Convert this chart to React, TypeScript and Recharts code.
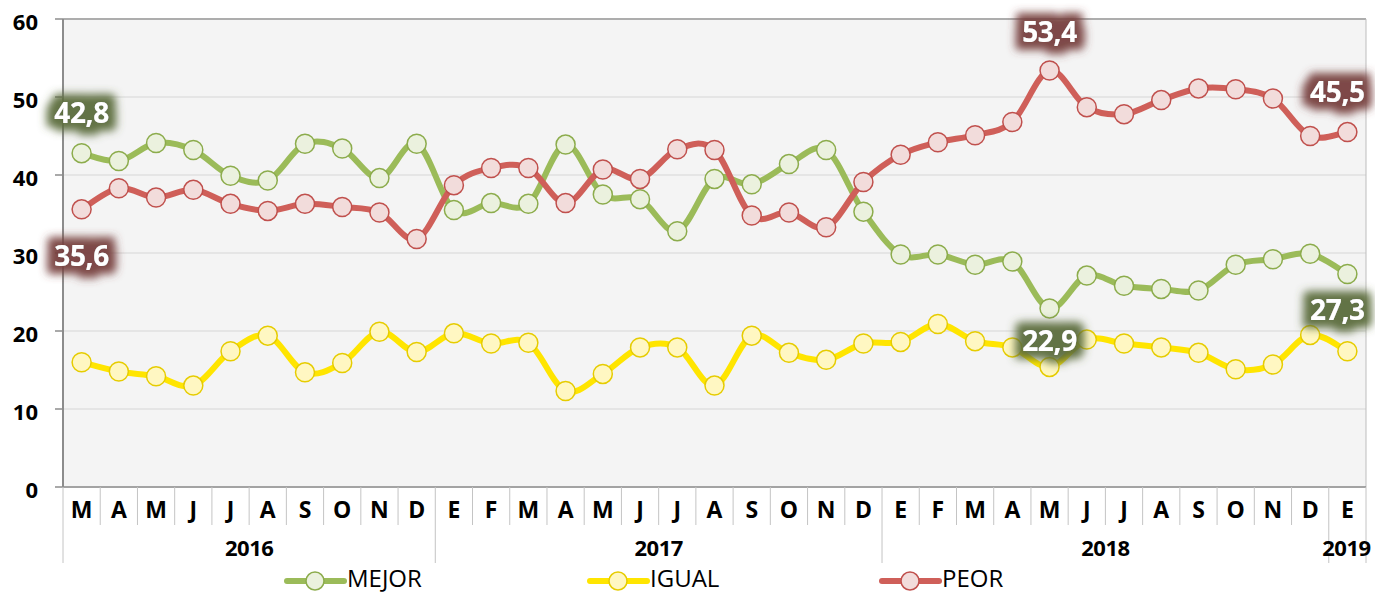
import React from 'react';
import { LineChart, Line, XAxis, YAxis, CartesianGrid, ReferenceLine, LabelList } from 'recharts';

const months = ['M', 'A', 'M', 'J', 'J', 'A', 'S', 'O', 'N', 'D', 'E', 'F', 'M', 'A', 'M', 'J', 'J', 'A', 'S', 'O', 'N', 'D', 'E', 'F', 'M', 'A', 'M', 'J', 'J', 'A', 'S', 'O', 'N', 'D', 'E'];
const yearLabels = ['2016', '2017', '2018', '2019'];
const yearSpans = [10, 12, 12, 1];

const mejor = [42.8, 41.8, 44.1, 43.2, 39.9, 39.3, 44.0, 43.4, 39.6, 44.0, 35.5, 36.4, 36.3, 43.9, 37.5, 36.9, 32.8, 39.5, 38.8, 41.4, 43.2, 35.3, 29.8, 29.8, 28.5, 28.9, 22.9, 27.1, 25.8, 25.4, 25.2, 28.5, 29.2, 29.9, 27.3];
const igual = [16.0, 14.8, 14.2, 13.0, 17.4, 19.4, 14.7, 15.9, 19.9, 17.3, 19.7, 18.4, 18.5, 12.3, 14.5, 17.9, 17.9, 13.0, 19.4, 17.2, 16.3, 18.4, 18.6, 20.9, 18.7, 17.9, 15.4, 18.9, 18.4, 17.9, 17.2, 15.1, 15.7, 19.5, 17.4];
const peor = [35.6, 38.3, 37.1, 38.1, 36.3, 35.4, 36.3, 35.9, 35.2, 31.8, 38.7, 40.9, 40.9, 36.4, 40.7, 39.5, 43.3, 43.2, 34.8, 35.2, 33.3, 39.1, 42.6, 44.2, 45.1, 46.8, 53.4, 48.7, 47.8, 49.6, 51.1, 51.0, 49.8, 45.0, 45.5];
const yTicks = [0, 10, 20, 30, 40, 50, 60];

// which points carry a value label, and where it sits
const mejorLabels: Record<number, { dx: number; dy: number }> = { 0: { dx: 0, dy: -40 }, 26: { dx: 0, dy: 33 }, 34: { dx: -10, dy: 36 } };
const peorLabels: Record<number, { dx: number; dy: number }> = { 0: { dx: 0, dy: 47 }, 26: { dx: 0, dy: -39 }, 34: { dx: -10, dy: -40 } };

const W = 1375;
const H = 594;
const M = { top: 19, right: 0, left: 0, bottom: 31 };
const Y_W = 63;
const R_W = 9;
const STEP = (W - Y_W - R_W) / months.length;
const FONT = '"Open Sans", sans-serif';

const yearOfIndex: { start: number; label: string; span: number }[] = [];
{
  let s = 0;
  yearSpans.forEach((n, i) => {
    yearOfIndex.push({ start: s, label: yearLabels[i], span: n });
    s += n;
  });
}

const data = months.map((m, i) => ({ m, i, mejor: mejor[i], igual: igual[i], peor: peor[i] }));

// excel-like smoothed line (cardinal, tension 0)
const smooth = (context: any) => {
  let pts: number[][] = [];
  return {
    areaStart() {},
    areaEnd() {},
    lineStart() { pts = []; },
    point(x: number, y: number) { pts.push([+x, +y]); },
    lineEnd() {
      if (!pts.length) return;
      context.moveTo(pts[0][0], pts[0][1]);
      for (let i = 0; i < pts.length - 1; i++) {
        const p0 = pts[i - 1] || pts[i];
        const p1 = pts[i];
        const p2 = pts[i + 1];
        const p3 = pts[i + 2] || p2;
        context.bezierCurveTo(
          p1[0] + (p2[0] - p0[0]) / 6, p1[1] + (p2[1] - p0[1]) / 6,
          p2[0] - (p3[0] - p1[0]) / 6, p2[1] - (p3[1] - p1[1]) / 6,
          p2[0], p2[1]
        );
      }
    },
  };
};

const YTick = ({ x, y, payload }: any) => (
  <text x={x} y={y} dy={11} textAnchor="end" fontFamily={FONT} fontWeight={700} fontSize={22} fill="#000">
    {payload.value}
  </text>
);

const MonthTick = ({ x, y, payload, index }: any) => (
  <g>
    <line x1={x - STEP / 2} y1={y} x2={x - STEP / 2} y2={y + 38} stroke="#c4c4c4" />
    {index === months.length - 1 && <line x1={x + STEP / 2} y1={y} x2={x + STEP / 2} y2={y + 38} stroke="#c4c4c4" />}
    <text x={x} y={y} dy={31} textAnchor="middle" fontFamily={FONT} fontWeight={700} fontSize={23} fill="#000">
      {payload.value}
    </text>
  </g>
);

const YearTick = ({ x, y, index }: any) => {
  const grp = yearOfIndex.find((g) => g.start === index);
  if (!grp) return null;
  const cx = grp.span === 1 ? x - 1 : x + ((grp.span - 1) / 2) * STEP;
  const last = grp.start + grp.span === months.length;
  return (
    <g>
      <line x1={x - STEP / 2} y1={y} x2={x - STEP / 2} y2={y + 38} stroke="#c4c4c4" />
      {last && <line x1={x + (grp.span - 0.5) * STEP} y1={y} x2={x + (grp.span - 0.5) * STEP} y2={y + 38} stroke="#c4c4c4" />}
      <text x={cx} y={y} dy={31} textAnchor="middle" fontFamily={FONT} fontWeight={700} fontSize={22} letterSpacing={-0.5} fill="#000">
        {grp.label}
      </text>
    </g>
  );
};

const makeLabel = (pos: Record<number, { dx: number; dy: number }>, filterId: string) => (props: any) => {
  const { x, y, value, index } = props;
  const p = pos[index];
  if (!p) return null;
  return (
    <text
      x={x + p.dx}
      y={y + p.dy}
      dy="0.36em"
      textAnchor="middle"
      fontFamily={FONT}
      fontWeight={700}
      fontSize={28}
      letterSpacing={-0.3}
      fill="#fff"
      filter={`url(#${filterId})`}
    >
      {String(value).replace('.', ',')}
    </text>
  );
};

const Glow = ({ id, color }: { id: string; color: string }) => (
  <filter id={id} x="-50%" y="-80%" width="200%" height="260%">
    <feMorphology in="SourceAlpha" operator="dilate" radius="8" result="d" />
    <feGaussianBlur in="d" stdDeviation="4.5" result="b" />
    <feFlood floodColor={color} floodOpacity="0.95" />
    <feComposite in2="b" operator="in" result="g" />
    <feMerge>
      <feMergeNode in="g" />
      <feMergeNode in="SourceGraphic" />
    </feMerge>
  </filter>
);

const series = [
  { key: 'mejor', name: 'MEJOR', stroke: '#9bbb59', dotStroke: '#8cac4c', fill: '#ebf1de' },
  { key: 'igual', name: 'IGUAL', stroke: '#ffe500', dotStroke: '#e6cc00', fill: '#fff7c2' },
  { key: 'peor', name: 'PEOR', stroke: '#cf5f59', dotStroke: '#c0504d', fill: '#f2dcdb' },
];
const legendX = [287, 590, 882];

export default function App() {
  return (
    <div style={{ position: 'absolute', left: 0, top: 0, width: W, height: H, background: '#fff', fontFamily: FONT }}>
      <LineChart width={W} height={H} data={data} margin={M}>
        <defs>
          <Glow id="glowG" color="#5b6c3c" />
          <Glow id="glowR" color="#77403e" />
        </defs>
        <CartesianGrid vertical={false} fill="#f4f4f4" stroke="#e0e0e0" strokeWidth={1.5} />
        <YAxis
          yAxisId={0}
          width={Y_W}
          domain={[0, 60]}
          ticks={yTicks}
          tick={<YTick />}
          tickSize={8}
          tickMargin={17}
          tickLine={{ stroke: '#8c8c8c', strokeWidth: 1.5 }}
          axisLine={{ stroke: '#8c8c8c', strokeWidth: 2 }}
        />
        <YAxis yAxisId="r" orientation="right" width={R_W} domain={[0, 60]} tick={false} tickLine={false} axisLine={{ stroke: '#bdbdbd' }} />
        <XAxis
          dataKey="i"
          scale="band"
          height={38}
          interval={0}
          tickSize={0}
          tickMargin={0}
          tickLine={false}
          tick={(p: any) => <MonthTick {...p} payload={{ value: months[p.payload.value] }} />}
          axisLine={{ stroke: '#8c8c8c', strokeWidth: 1.5 }}
        />
        <XAxis
          xAxisId="yr"
          dataKey="i"
          scale="band"
          height={38}
          interval={0}
          tickSize={0}
          tickMargin={0}
          tickLine={false}
          axisLine={false}
          tick={<YearTick />}
        />
        <ReferenceLine y={60} stroke="#9a9a9a" strokeWidth={1.5} />
        {series.map((s) => (
          <Line
            key={s.key}
            dataKey={s.key}
            name={s.name}
            type={smooth as any}
            stroke={s.stroke}
            strokeWidth={6}
            dot={{ r: 9.5, fill: s.fill, stroke: s.dotStroke, strokeWidth: 1.5 }}
            activeDot={false}
            isAnimationActive={false}
          />
        ))}
        <Line dataKey="mejor" stroke="none" dot={false} activeDot={false} legendType="none" isAnimationActive={false}>
          <LabelList dataKey="mejor" content={makeLabel(mejorLabels, 'glowG')} />
        </Line>
        <Line dataKey="peor" stroke="none" dot={false} activeDot={false} legendType="none" isAnimationActive={false}>
          <LabelList dataKey="peor" content={makeLabel(peorLabels, 'glowR')} />
        </Line>
      </LineChart>
      <svg width={W} height={34} style={{ position: 'absolute', left: 0, top: 560 }}>
        {series.map((s, i) => (
          <g key={s.key}>
            <line x1={legendX[i]} y1={21} x2={legendX[i] + 57} y2={21} stroke={s.stroke} strokeWidth={6} strokeLinecap="round" />
            <circle cx={legendX[i] + 28} cy={21} r={9} fill={s.fill} stroke={s.dotStroke} strokeWidth={1.5} />
            <text x={legendX[i] + 60} y={27} fontFamily={FONT} fontSize={24} fill="#000">
              {s.name}
            </text>
          </g>
        ))}
      </svg>
    </div>
  );
}
